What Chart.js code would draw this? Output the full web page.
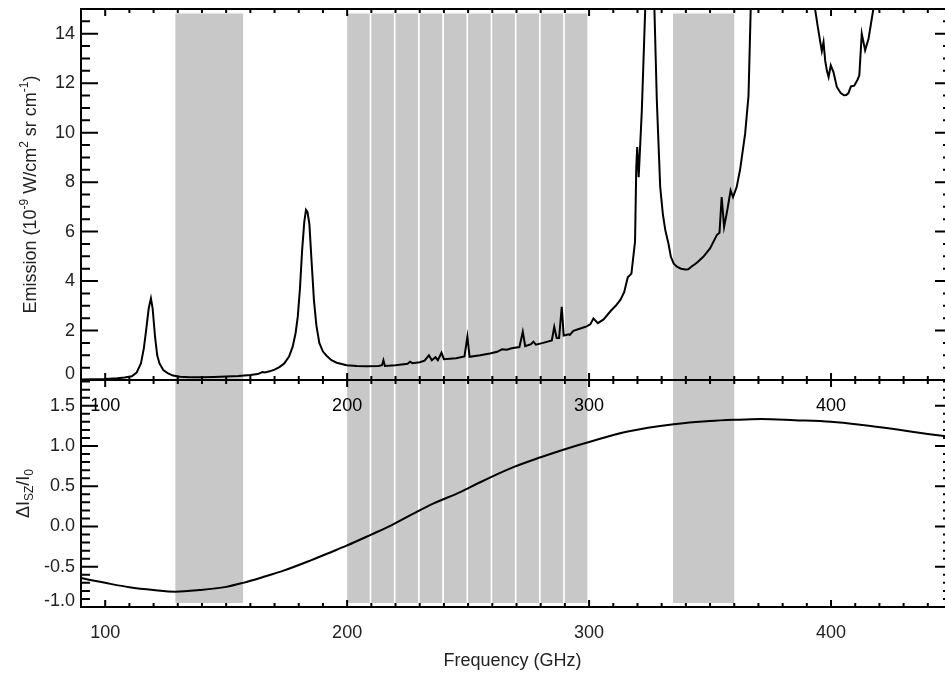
<!DOCTYPE html>
<html lang="en">
<head>
<meta charset="UTF-8">
<title>Atmospheric emission and SZ spectrum</title>
<script src="https://cdn.jsdelivr.net/npm/chart.js"></script>
<style>
  html, body { margin: 0; padding: 0; background: #fff; overflow: hidden; }
  #wrap { position: relative; width: 945px; height: 675px; overflow: hidden; }
  #wrap canvas { position: absolute; left: 0; top: 0; }
</style>
</head>
<body>
<div id="wrap">
  <canvas id="szChart" width="960" height="675"></canvas>
  <canvas id="emChart" width="960" height="675"></canvas>
</div>
<script>
// atmospheric emission (GHz, 1e-9 W/cm2 sr cm-1)
const emFreq = [90, 95, 100, 105, 108, 111, 113, 114.8, 116, 116.9, 118, 118.9, 119.6, 120.6, 121.5, 122.4, 124, 125.8, 128, 131,
  135, 140, 145, 150, 155, 160, 163, 165, 166, 168, 170, 172, 174, 176, 177.5, 178.7, 179.6, 180.5, 181.4, 182.3,
  183, 183.6, 184.4, 185.3, 186.3, 187.3, 188.5, 190, 191.6, 193.5, 195.7, 199.8, 204, 208, 213, 214.4, 215, 215.6, 220, 225,
  226, 227, 230, 232, 233.8, 235, 236.5, 237.5, 239, 240, 245, 248.5, 249.7, 250.6, 255, 259, 262, 264, 266, 268,
  271.2, 272.6, 273.6, 276, 277, 278, 281, 284.6, 285.6, 286.6, 287.6, 288.7, 289.5, 290.5, 291.5, 292, 293.5, 297, 299, 300.5,
  301.8, 303.6, 306, 309, 311, 313, 314.5, 316, 317.5, 318.3, 319, 319.5, 319.9, 320.5, 321.8, 323.2, 324, 325.2, 326.5, 327,
  328, 329.4, 330.5, 331.5, 332.8, 333.8, 335, 336.3, 338, 339.7, 341, 342.5, 343.2, 345, 347.2, 350, 352.8, 353.9, 354.8, 355.8,
  357, 358.5, 359.5, 361, 362.4, 364.5, 365.9, 366.8, 368, 380, 392, 393.4, 394.5, 395.5, 396.2, 396.9, 397.6, 398.3, 399, 399.9,
  401, 402.4, 404, 405.4, 406.3, 407.2, 408.2, 409.6, 411, 411.7, 412.7, 414.1, 415.5, 417.5, 420, 450];
const emValue = [0.02, 0.03, 0.04, 0.07, 0.1, 0.15, 0.3, 0.68, 1.3, 2.0, 2.9, 3.3, 2.9, 1.75, 1.0, 0.68, 0.4, 0.28, 0.18, 0.13,
  0.11, 0.11, 0.12, 0.14, 0.16, 0.2, 0.24, 0.32, 0.3, 0.35, 0.42, 0.52, 0.67, 0.95, 1.35, 1.9, 2.56, 3.7, 5.25, 6.4,
  6.88, 6.8, 6.3, 4.8, 3.2, 2.2, 1.5, 1.15, 0.97, 0.8, 0.7, 0.6, 0.57, 0.56, 0.57, 0.6, 0.8, 0.57, 0.6, 0.66,
  0.74, 0.68, 0.72, 0.78, 1.0, 0.8, 0.92, 0.8, 1.1, 0.84, 0.88, 0.95, 1.75, 0.94, 1.0, 1.07, 1.14, 1.24, 1.22, 1.28,
  1.33, 1.95, 1.37, 1.45, 1.55, 1.43, 1.5, 1.6, 2.15, 1.7, 1.7, 2.96, 1.8, 1.82, 1.85, 1.82, 1.99, 2.1, 2.17, 2.25,
  2.49, 2.3, 2.45, 2.8, 3.0, 3.25, 3.55, 4.15, 4.3, 5.0, 5.6, 8.6, 9.42, 8.2, 10.9, 15, 20, 40, 20, 15,
  11.3, 7.8, 6.7, 6.06, 5.52, 4.98, 4.7, 4.58, 4.5, 4.47, 4.48, 4.6, 4.64, 4.78, 4.98, 5.32, 5.86, 5.95, 7.4, 6.19,
  6.8, 7.67, 7.4, 7.8, 8.5, 9.96, 11.5, 15, 20, 40, 20, 15, 14.3, 13.7, 13.3, 13.66, 12.9, 12.5, 12.25, 12.72,
  12.45, 11.85, 11.6, 11.51, 11.52, 11.6, 11.87, 11.9, 12.15, 12.32, 14.0, 13.33, 13.8, 15, 20, 40];

// thermal SZ spectral shape
const szFreq = [90, 100, 110, 120, 129, 139, 150, 157, 165, 174, 185, 194, 200, 210, 218, 228, 236, 247, 255, 269,
  280, 290, 300, 316, 335, 350, 360, 371, 385, 400, 413, 426, 440, 450];
const szValue = [-0.64, -0.70, -0.755, -0.79, -0.81, -0.79, -0.75, -0.70, -0.63, -0.545, -0.42, -0.31, -0.235, -0.10, 0.01, 0.17, 0.29, 0.43, 0.55, 0.74,
  0.86, 0.96, 1.05, 1.18, 1.27, 1.31, 1.325, 1.335, 1.32, 1.30, 1.26, 1.21, 1.15, 1.11];

// observing bands (GHz)
const bandStart = [129, 200, 210, 220, 230, 240, 250, 260, 270, 280, 290, 334.7];
const bandEnd = [157, 209.3, 219.3, 229.3, 239.3, 249.3, 259.3, 269.3, 279.3, 289.3, 299.3, 360];

const xTicks = [100, 200, 300, 400];
const xTickLabels = ['100', '200', '300', '400'];
const emTicks = [0, 2, 4, 6, 8, 10, 12, 14];
const emTickLabels = ['0', '2', '4', '6', '8', '10', '12', '14'];
const szTicks = [-1.0, -0.5, 0.0, 0.5, 1.0, 1.5];
const szTickLabels = ['-1.0', '-0.5', '0.0', '0.5', '1.0', '1.5'];

const FONT = '"Liberation Sans", Arial, Helvetica, sans-serif';

function drawRich(ctx, parts, cx, cy, rotate) {
  ctx.save();
  ctx.translate(cx, cy);
  if (rotate) ctx.rotate(-Math.PI / 2);
  ctx.textAlign = 'left';
  ctx.textBaseline = 'alphabetic';
  let total = 0;
  parts.forEach(p => { ctx.font = p.size + 'px ' + FONT; p.w = ctx.measureText(p.t).width; total += p.w; });
  let x = -total / 2;
  parts.forEach(p => { ctx.font = p.size + 'px ' + FONT; ctx.fillText(p.t, x, p.dy || 0); x += p.w; });
  ctx.restore();
}

function panelFrame(cfg) {
  return {
    id: 'panelFrame',
    beforeDatasetsDraw(chart) {
      const { ctx, chartArea: a, scales: { x, y } } = chart;
      ctx.save();
      ctx.beginPath();
      ctx.rect(a.left, a.top, a.right - a.left, a.bottom - a.top);
      ctx.clip();
      ctx.fillStyle = '#c8c8c8';
      const y1 = y.getPixelForValue(cfg.bandTop), y2 = y.getPixelForValue(cfg.bandBottom);
      bandStart.forEach((s, i) => {
        const x1 = x.getPixelForValue(s), x2 = x.getPixelForValue(bandEnd[i]);
        ctx.fillRect(x1, y1, x2 - x1, y2 - y1);
      });
      ctx.restore();
    },
    afterDatasetsDraw(chart) {
      const { ctx, chartArea: a, scales: { x, y } } = chart;
      ctx.save();
      ctx.strokeStyle = '#000';
      ctx.lineWidth = 2;
      ctx.strokeRect(a.left, a.top, a.right - a.left, a.bottom - a.top);

      ctx.beginPath();
      // x ticks, every 10 GHz, on top and bottom edges
      for (let k = 9; k <= 45; k++) {
        const v = k * 10;
        const px = x.getPixelForValue(v);
        const len = xTicks.includes(v) ? 7 : 4;
        ctx.moveTo(px, a.bottom); ctx.lineTo(px, a.bottom - len);
        ctx.moveTo(px, a.top); ctx.lineTo(px, a.top + len);
      }
      // y ticks on left and right edges
      const n = Math.round((y.max - y.min) / cfg.minorStep);
      for (let k = 0; k <= n + 1; k++) {
        const v = Math.round((cfg.firstMinor + k * cfg.minorStep) * 100) / 100;
        if (v > y.max) break;
        const py = y.getPixelForValue(v);
        const len = cfg.yTicks.includes(v) ? 17 : 9;
        ctx.moveTo(a.left, py); ctx.lineTo(a.left + len, py);
        ctx.moveTo(a.right, py); ctx.lineTo(a.right - len, py);
      }
      ctx.stroke();

      // tick labels
      ctx.font = '18px ' + FONT;
      ctx.fillStyle = cfg.xLabelColor;
      ctx.textAlign = 'center';
      ctx.textBaseline = 'middle';
      xTicks.forEach((v, i) => ctx.fillText(xTickLabels[i], x.getPixelForValue(v), a.bottom + 26));
      ctx.fillStyle = '#222';
      ctx.textAlign = 'right';
      cfg.yTicks.forEach((v, i) => {
        let py = y.getPixelForValue(v);
        if (v === y.min) py -= 6;
        ctx.fillText(cfg.yLabels[i], a.left - 6, py);
      });

      ctx.fillStyle = '#222';
      drawRich(ctx, cfg.yTitle, cfg.yTitleX, (a.top + a.bottom) / 2, true);
      if (cfg.xTitle) drawRich(ctx, cfg.xTitle, (a.left + a.right) / 2 - 4, a.bottom + 59, false);
      ctx.restore();
    }
  };
}

function lineData(xs, ys) {
  return xs.map((f, i) => ({ x: f, y: ys[i] }));
}

Chart.defaults.font.family = FONT;

new Chart(document.getElementById('emChart'), {
  type: 'line',
  data: {
    datasets: [{
      data: lineData(emFreq, emValue),
      borderColor: '#000',
      borderWidth: 2,
      pointRadius: 0,
      tension: 0
    }]
  },
  options: {
    responsive: false,
    animation: false,
    devicePixelRatio: 1,
    layout: { padding: { left: 81, right: 8, top: 9, bottom: 295 } },
    plugins: { legend: { display: false }, tooltip: { enabled: false } },
    scales: {
      x: { type: 'linear', min: 90, max: 450, display: false },
      y: { min: 0, max: 15, display: false }
    }
  },
  plugins: [panelFrame({
    bandTop: 14.82, bandBottom: 0,
    yTicks: emTicks, yLabels: emTickLabels, minorStep: 0.5, firstMinor: 0,
    xLabelColor: '#000',
    yTitleX: 36,
    yTitle: [
      { t: 'Emission (10', size: 18 },
      { t: '-9', size: 12, dy: -8 },
      { t: ' W/cm', size: 18 },
      { t: '2', size: 12, dy: -8 },
      { t: ' sr cm', size: 18 },
      { t: '-1', size: 12, dy: -8 },
      { t: ')', size: 18 }
    ]
  })]
});

new Chart(document.getElementById('szChart'), {
  type: 'line',
  data: {
    datasets: [{
      data: lineData(szFreq, szValue),
      borderColor: '#000',
      borderWidth: 2,
      pointRadius: 0,
      cubicInterpolationMode: 'monotone'
    }]
  },
  options: {
    responsive: false,
    animation: false,
    devicePixelRatio: 1,
    layout: { padding: { left: 81, right: 8, top: 380, bottom: 68 } },
    plugins: { legend: { display: false }, tooltip: { enabled: false } },
    scales: {
      x: { type: 'linear', min: 90, max: 450, display: false },
      y: { min: -1.0, max: 1.82, display: false }
    }
  },
  plugins: [panelFrame({
    bandTop: 1.82, bandBottom: -0.95,
    yTicks: szTicks, yLabels: szTickLabels, minorStep: 0.1, firstMinor: -1.0,
    xLabelColor: '#222',
    yTitleX: 29,
    yTitle: [
      { t: '\u0394I', size: 18 },
      { t: 'SZ', size: 12, dy: 4 },
      { t: '/I', size: 18 },
      { t: '0', size: 12, dy: 4 }
    ],
    xTitle: [{ t: 'Frequency (GHz)', size: 18 }]
  })]
});
</script>
</body>
</html>
